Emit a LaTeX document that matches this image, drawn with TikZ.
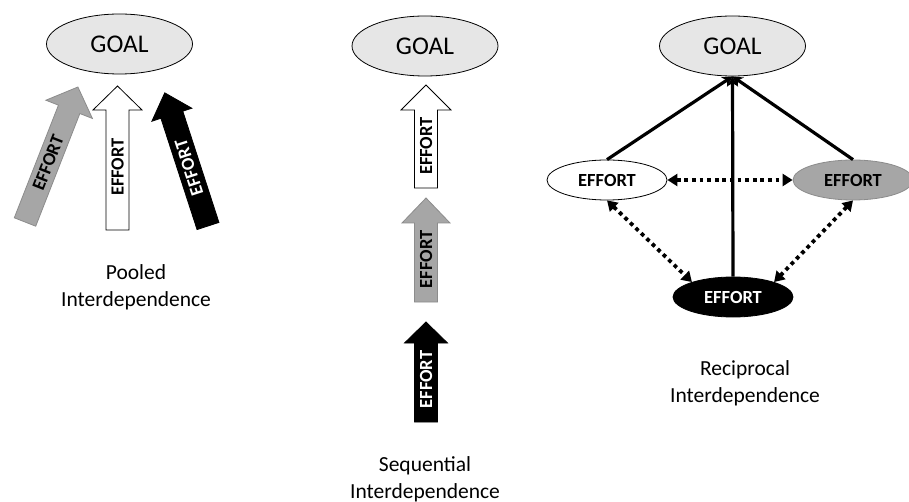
\documentclass[tikz,border=0pt]{standalone}
\usepackage{fontspec}
\setmainfont{Carlito}
\usetikzlibrary{arrows.meta,shapes.geometric}
\definecolor{goalgray}{HTML}{E6E6E6}
\definecolor{midgray}{HTML}{A6A6A6}
\definecolor{edgegray}{HTML}{8C8C8C}
\tikzset{
  goal/.style={ellipse, draw=black, line width=0.8pt, fill=goalgray, minimum width=146pt, minimum height=60pt, inner sep=0pt, font=\fontsize{25.5}{25.5}\selectfont},
  effell/.style={ellipse, draw=black, line width=0.8pt, minimum width=120pt, minimum height=40pt, inner sep=0pt, font=\bfseries\fontsize{18.5}{18.5}\selectfont},
  efftext/.style={inner sep=0pt, font=\bfseries\fontsize{18.5}{18.5}\selectfont},
  caption/.style={align=center, font=\fontsize{21.5}{27}\selectfont, inner sep=0pt},
  whiteshape/.style={draw=black, line width=0.8pt, fill=white},
  grayshape/.style={draw=edgegray, line width=0.8pt, fill=midgray},
  blackshape/.style={draw=black, line width=0.8pt, fill=black},
  solidlink/.style={line width=3.2pt, -{Stealth[length=10pt,width=11pt]}},
  dotlink/.style={line width=3.8pt, dash pattern=on 3.8pt off 3.8pt, {Triangle[length=10pt,width=12pt]}-{Triangle[length=10pt,width=12pt]}},
}
% #1 name, #2 base point, #3 angle, #4 length, #5 head half width, #6 head length, #7 shape style, #8 text style
\newcommand\effarrow[8]{%
  \begin{scope}[shift={#2}, rotate=#3]
    \draw[#7] (0,-11.5) -- ({#4-#6},-11.5) -- ({#4-#6},-#5) -- (#4,0) -- ({#4-#6},#5) -- ({#4-#6},11.5) -- (0,11.5) -- cycle;
    \node[efftext, #8, rotate=#3] (#1) at ({(#4-#6)/2+3},0) {EFFORT};
  \end{scope}}
\begin{document}
\begin{tikzpicture}[x=1pt,y=1pt]
\useasboundingbox (0,0) rectangle (909,-502);

% ---------- Pooled ----------
\node[goal] (goalA) at (119.5,-44) {GOAL};
\effarrow{effA1}{(25,-222)}{68.6}{145}{25}{24}{grayshape}{text=black}
\effarrow{effA2}{(117.5,-230)}{90}{144}{24.5}{24}{whiteshape}{text=black}
\effarrow{effA3}{(208,-226)}{108}{140}{21}{23}{blackshape}{text=white}
\node[caption] (capA) at (136,-287) {Pooled\\Interdependence};

% ---------- Sequential ----------
\node[goal] (goalB) at (425,-46) {GOAL};
\effarrow{effB1}{(426,-188)}{90}{103}{25}{25}{whiteshape}{text=black}
\effarrow{effB2}{(426,-302)}{90}{104}{24}{25}{grayshape}{text=black}
\effarrow{effB3}{(426,-422)}{90}{100}{21.5}{21}{blackshape}{text=white}
\node[caption] (capB) at (425,-479) {Sequential\\Interdependence};

% ---------- Reciprocal ----------
\node[goal] (goalC) at (732.5,-46) {GOAL};
\node[effell, fill=white] (effC1) at (607,-180) {EFFORT};
\node[effell, fill=midgray, draw=edgegray] (effC2) at (853,-180) {EFFORT};
\node[effell, fill=black, text=white] (effC3) at (733,-297) {EFFORT};
\draw[solidlink] (effC1.north) -- (goalC.south);
\draw[solidlink] (effC2.north) -- (goalC.south);
\draw[solidlink] (effC3.north) -- (goalC.south);
\draw[dotlink] (effC1.east) -- (effC2.west);
\draw[dotlink] (effC1.south) -- (effC3.160);
\draw[dotlink] (effC2.south) -- (effC3.20);
\node[caption] (capC) at (745,-383) {Reciprocal\\Interdependence};
\end{tikzpicture}
\end{document}
